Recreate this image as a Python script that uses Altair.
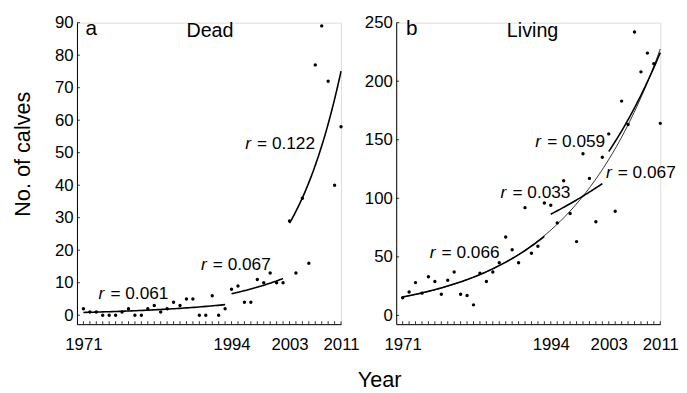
import altair as alt
import pandas as pd
import numpy as np

FONT = "Liberation Sans"

years = list(range(1971, 2012))
dead = [2, 1, 1, 0, 0, 0, 1, 2, 0, 0,
        2, 3, 1, 2, 4, 3, 5, 5, 0, 0,
        6, 0, 2, 8, 9, 4, 4, 11, 10, 13,
        10, 10, 29, 13, 36, 16, 77, 89, 72, 40,
        58]
living = [15, 20, 28, 19, 33, 29, 18, 30, 37, 18,
          17, 9, 36, 29, 37, 45, 67, 56, 45, 92,
          53, 59, 96, 94, 79, 115, 87, 63, 138, 117,
          80, 135, 155, 89, 183, 163, 242, 208, 224, 215,
          164]

label_years = [1971, 1994, 2003, 2011]
dead_yticks = [0, 10, 20, 30, 40, 50, 60, 70, 80, 90]
living_yticks = [0, 50, 100, 150, 200, 250]

# exponential fits: start year, end year, value at start, rate r, line weight
dead_fit_start = [1971, 1994, 2003]
dead_fit_end = [1993, 2002, 2011]
dead_fit_a = [0.85, 6.6, 28.3]
dead_fit_r = [0.061, 0.067, 0.122]
dead_fit_w = ["thick", "thick", "thick"]

living_fit_start = [1971, 1971, 1994, 2003]
living_fit_end = [2011, 1993, 2002, 2011]
living_fit_a = [15.6, 15.8, 86.4, 140.0]
living_fit_r = [0.067, 0.066, 0.033, 0.059]
living_fit_w = ["thin", "thick", "thick", "thick"]

# annotation labels: left-edge year, baseline value, r value
dead_r_year = [1973.36, 1989.25, 1996.12]
dead_r_val = [5.1, 14.0, 51.25]
dead_r_txt = ["0.061", "0.067", "0.122"]
living_r_year = [1975.21, 1986.21, 1991.6, 2002.56]
living_r_val = [48.7, 100.2, 143.9, 117.1]
living_r_txt = ["0.066", "0.033", "0.059", "0.067"]

W, H = 268, 306


def fit_frame(starts, ends, a_s, rs, ws):
    rows = []
    for i, (s, e, a, r, w) in enumerate(zip(starts, ends, a_s, rs, ws)):
        for t in np.linspace(s, e, 60):
            rows.append({"year": float(t), "n": a * np.exp(r * (t - s)), "seg": i, "w": w})
    return pd.DataFrame(rows)


def panel(values, ydom, yticks, fits, rlab, letter, letter_pos, name, name_pos, ytitle):
    pts = pd.DataFrame({"year": years, "n": values})
    xsc = alt.Scale(domain=[1970, 2011], nice=False, zero=False)
    ysc = alt.Scale(domain=ydom, nice=False, zero=False)
    xaxis = alt.Axis(values=years, ticks=False, grid=False, domainColor="black", domainWidth=1,
                     labelFont=FONT, labelFontSize=17, labelColor="black", labelPadding=13,
                     labelOverlap=False, labelFlush=False, format="d",
                     labelExpr="indexof(%s, datum.value) >= 0 ? datum.label : ''" % str(label_years),
                     title=None)
    yargs = dict(values=yticks, ticks=False, grid=False, domainColor="black", domainWidth=1,
                 labelFont=FONT, labelFontSize=17, labelColor="black", labelPadding=4,
                 labelOverlap=False, labelFlush=False)
    if ytitle:
        yaxis = alt.Axis(title=ytitle, titleFont=FONT, titleFontSize=22, titleFontWeight="normal",
                         titleColor="black", titlePadding=20, titleY=133, **yargs)
    else:
        yaxis = alt.Axis(title=None, **yargs)

    X = alt.X("year:Q", scale=xsc, axis=xaxis)
    Y = alt.Y("n:Q", scale=ysc, axis=yaxis)

    points = alt.Chart(pts).mark_circle(size=12, color="black", opacity=1).encode(x=X, y=Y)

    fdf = fit_frame(*fits)
    thick = alt.Chart(fdf[fdf.w == "thick"]).mark_line(color="black", strokeWidth=1.6).encode(
        x=X, y=Y, detail="seg:N")
    layers = [points, thick]
    if (fdf.w == "thin").any():
        thin = alt.Chart(fdf[fdf.w == "thin"]).mark_line(color="black", strokeWidth=0.8).encode(
            x=X, y=Y, detail="seg:N")
        layers.insert(1, thin)

    xt = alt.Chart(pd.DataFrame({"year": years})).mark_rule(color="black", strokeWidth=0.8).encode(
        x=X, y=alt.value(H), y2=alt.value(H - 3))
    yt = alt.Chart(pd.DataFrame({"n": yticks})).mark_rule(color="black", strokeWidth=0.8).encode(
        y=Y, x=alt.value(0), x2=alt.value(3))
    layers += [xt, yt]

    ry, rv, rt = rlab
    rdf = pd.DataFrame({"year": ry, "n": rv, "t": ["= " + s for s in rt]})
    rr = alt.Chart(rdf).mark_text(text="r", font=FONT, fontSize=17.5, fontStyle="italic",
                                  align="left", baseline="alphabetic", color="black").encode(
        x=X, y=Y)
    rest = alt.Chart(rdf).mark_text(font=FONT, fontSize=17.5, align="left", dx=12,
                                    baseline="alphabetic", color="black").encode(
        x=X, y=Y, text="t:N")
    let = alt.Chart(pd.DataFrame({"year": [letter_pos[0]], "n": [letter_pos[1]], "t": [letter]})).mark_text(
        font=FONT, fontSize=21, align="left", baseline="alphabetic", color="black").encode(
        x=X, y=Y, text="t:N")
    nm = alt.Chart(pd.DataFrame({"year": [name_pos[0]], "n": [name_pos[1]], "t": [name]})).mark_text(
        font=FONT, fontSize=20, align="center", baseline="alphabetic", color="black").encode(
        x=X, y=Y, text="t:N")
    layers += [rr, rest, let, nm]
    return alt.layer(*layers).properties(width=W, height=H)


left = panel(dead, [-2.75, 90], dead_yticks,
             (dead_fit_start, dead_fit_end, dead_fit_a, dead_fit_r, dead_fit_w),
             (dead_r_year, dead_r_val, dead_r_txt),
             "a", (1971.33, 86.2), "Dead", (1990.65, 85.7), "No. of calves")
right = panel(living, [-7.5, 250], living_yticks,
              (living_fit_start, living_fit_end, living_fit_a, living_fit_r, living_fit_w),
              (living_r_year, living_r_val, living_r_txt),
              "b", (1971.53, 239.3), "Living", (1991.17, 237.9), None)

chart = alt.hconcat(left, right, spacing=56, bounds="flush").properties(
    title=alt.TitleParams("Year", orient="bottom", anchor="middle", font=FONT, fontSize=22,
                          fontWeight="normal", color="black", offset=17, dx=35),
    padding={"left": 3, "top": 2, "right": 0, "bottom": 0},
).configure_view(stroke=None).configure(background="white")

chart.save("out.html", embed_options={"renderer": "svg", "actions": False})
